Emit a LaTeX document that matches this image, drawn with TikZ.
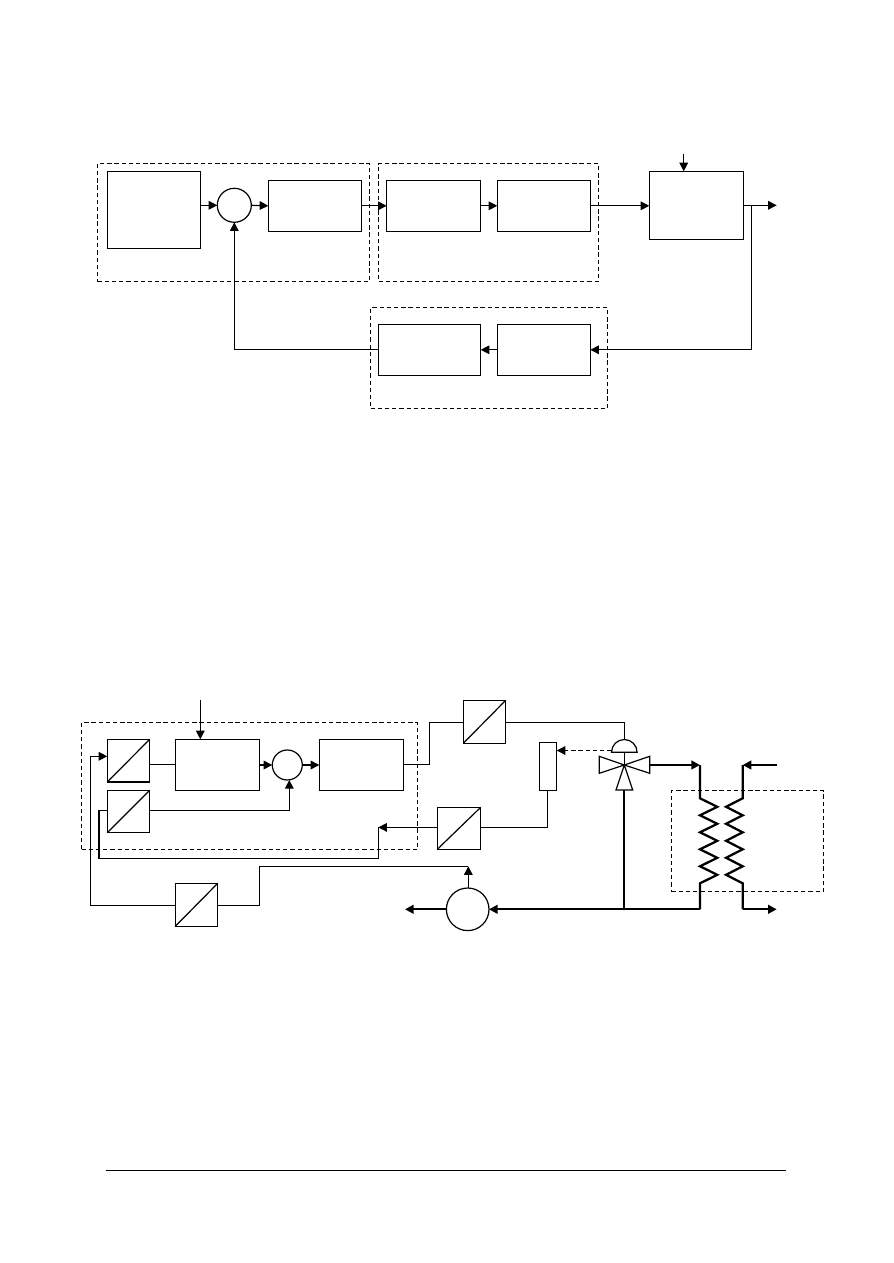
\documentclass[tikz,border=0pt]{standalone}
\usetikzlibrary{arrows.meta,calc}
\tikzset{
  px/.style={x=0.75pt,y=-0.75pt},
  wire/.style={line width=0.9pt,line join=miter},
  pipe/.style={line width=1.7pt,line join=miter},
  flow/.style={wire,-{Triangle[length=6.5pt,width=6.5pt]}},
  pipeflow/.style={pipe,-{Triangle[length=6.5pt,width=6.5pt]}},
  blockbox/.style={draw,line width=0.9pt,rectangle,inner sep=0pt,outer sep=0pt,fill=white},
  groupbox/.style={draw,line width=0.9pt,rectangle,inner sep=0pt,outer sep=0pt,dash pattern=on 3.2pt off 2.2pt},
  joint/.style={draw,line width=0.9pt,circle,inner sep=0pt,outer sep=0pt,fill=white},
}
\newcommand{\pxbox}[6]{\node[#1,minimum width={(#5-#3)*0.75pt},minimum height={(#6-#4)*0.75pt}] (#2) at ({(#3+#5)/2},{(#4+#6)/2}) {};}
\newcommand{\pxcirc}[4]{\node[joint,minimum size={2*#4*0.75pt}] (#1) at (#2,#3) {};}
\newcommand{\convdiag}[1]{\draw[wire] (#1.south west) -- (#1.north east);}
\begin{document}
\begin{tikzpicture}[px]
\useasboundingbox (0,0) rectangle (893,1263);
% ---------- upper diagram ----------
\pxbox{groupbox}{g1}{97.5}{163.5}{369.5}{281.5}
\pxbox{groupbox}{g2}{378.5}{163.5}{598.5}{281.5}
\pxbox{groupbox}{g3}{370.5}{307.5}{607.5}{408.5}
\coordinate (upin) at (683.7,154);
\coordinate (upout) at (776.7,205.3);
\coordinate (upbr) at (751.7,205.3);
\pxbox{blockbox}{a}{107.3}{171.3}{200.3}{248.3}
\pxcirc{s1}{234.3}{205.3}{17}
\pxbox{blockbox}{b}{268.3}{180.3}{361.7}{231.3}
\pxbox{blockbox}{c}{386.7}{180.3}{480.7}{231.3}
\pxbox{blockbox}{d}{497.3}{180.3}{590.3}{231.3}
\pxbox{blockbox}{e}{649.3}{171.3}{743.7}{239.3}
\pxbox{blockbox}{f}{497.3}{324.3}{590.3}{375.3}
\pxbox{blockbox}{h}{378.3}{324.3}{480.7}{375.3}
\draw[flow] (a.east |- s1.west) -- (s1.west);
\draw[flow] (s1.east) -- (b.west);
\draw[flow] (b.east) -- (c.west);
\draw[flow] (c.east) -- (d.west);
\draw[flow] (d.east) -- (e.west |- d.east);
\draw[flow] (upin) -- (upin |- e.north);
\draw[flow] (e.east |- upout) -- (upout);
\draw[flow] (upbr) |- (f.east);
\draw[flow] (f.west) -- (h.east);
\draw[flow] (h.west) -| (s1.south);
% ---------- lower diagram ----------
\pxbox{groupbox}{g4}{81.5}{722.5}{417.5}{849.5}
\pxbox{groupbox}{g5}{671.5}{790.5}{823.5}{891.5}
\pxbox{blockbox}{k1}{107.3}{739.3}{149.7}{782}
\pxbox{blockbox}{k2}{107.3}{790.3}{149.7}{832.7}
\pxbox{blockbox}{k3}{463.3}{700.3}{505.7}{743.3}
\pxbox{blockbox}{k4}{437.3}{807.3}{480.7}{849.3}
\pxbox{blockbox}{k5}{175.3}{883.3}{217.7}{926.3}
\convdiag{k1}\convdiag{k2}\convdiag{k3}\convdiag{k4}\convdiag{k5}
\pxbox{blockbox}{p}{175.3}{739.3}{259.7}{790.3}
\pxbox{blockbox}{q}{319.3}{739.3}{403.7}{790.3}
\pxcirc{s2}{287.3}{765}{15}
\pxbox{blockbox}{t}{539.3}{742.3}{556.7}{790.3}
\pxcirc{pump}{467.7}{909.3}{21.3}
\coordinate (lowin) at (200.3,700);
\draw[flow] (lowin) -- (lowin |- p.north);
\draw[wire] (k1.east |- 0,764.3) -- (p.west |- 0,764.3);
\draw[flow] (p.east |- s2.west) -- (s2.west);
\draw[flow] (s2.east) -- (q.west |- s2.east);
% controller output to the valve actuator
\coordinate (vc) at (624.3,765);
\coordinate (act) at (624.3,752.3);
\coordinate (acttop) at (624.3,739.5);
\draw[wire] (q.east |- 0,764.3) -- (429.3,764.3) |- (k3.west |- 0,722.3);
\draw[wire] (k3.east |- 0,722.3) -| (acttop);
% actuator and valve
\draw[wire,fill=white] (611.5,752.3) arc[start angle=180,end angle=360,radius=12.8] -- cycle;
\draw[wire] (act) -- (vc);
\draw[wire,fill=white] (vc) -- (599.3,756.3) -- (599.3,773.3) -- cycle;
\draw[wire,fill=white] (vc) -- (649.7,756.3) -- (649.7,773.3) -- cycle;
\draw[wire,fill=white] (vc) -- (616,790) -- (632.7,790) -- cycle;
% dashed signal from actuator to transmitter
\coordinate (dashfrom) at (611.5,750.5);
\draw[wire,dash pattern=on 3.2pt off 2.2pt,-{Triangle[length=6.5pt,width=6.5pt]}] (dashfrom) -- (t.east |- dashfrom);
% transmitter to converter to controller
\coordinate (tb) at (547.3,790.3);
\draw[wire] (tb) |- (k4.east |- 0,827.4);
\coordinate (jc) at (378.3,827.4);
\draw[flow] (k4.west |- jc) -- (jc);
\draw[wire] (jc) -- (378.3,858.3) -- (99,858.3) -- (99,810.3) -- (k2.west |- 0,810.3);
\draw[flow] (k2.east |- 0,810.3) -| (289.3,780);
% flow meter loop
\coordinate (pt) at (468.3,866.3);
\draw[wire] (k5.west |- 0,905.3) -| (90.7,756.3);
\draw[flow] (90.7,756.3) -- (k1.west |- 0,756.3);
\draw[wire] (k5.east |- 0,905.3) -- (259.7,905.3) -- (259.7,866.3) -- (pt);
\draw[flow] (pump.north -| pt) -- (pt);
% heat exchanger
\coordinate (hl) at (700,765);
\coordinate (hr) at (742.7,765);
\coordinate (hlb) at (700,909.3);
\coordinate (hrb) at (742.7,909.3);
\coordinate (hin) at (776.7,765);
\coordinate (hout) at (776.7,909.3);
\draw[pipeflow] (649.7,765) -- (hl);
\draw[pipe] (hl) -- (700,798.3)
  -- (717.3,806.8) -- (700,815.3) -- (717.3,823.8) -- (700,832.3) -- (717.3,840.8)
  -- (700,849.3) -- (717.3,857.8) -- (700,866.3) -- (717.3,874.8) -- (700,883.3) -- (hlb);
\draw[pipe] (hr) -- (742.7,798.3)
  -- (726,806.8) -- (742.7,815.3) -- (726,823.8) -- (742.7,832.3) -- (726,840.8)
  -- (742.7,849.3) -- (726,857.8) -- (742.7,866.3) -- (726,874.8) -- (742.7,883.3) -- (hrb);
\draw[pipeflow] (hin) -- (hr);
\draw[pipeflow] (hrb) -- (hout);
\draw[pipeflow] (hlb) -- (pump.east);
\draw[pipeflow] (pump.west) -- (405,909.3);
\draw[pipe] (623.7,790) -- (623.7,909.3);
% page rule
\coordinate (ruleL) at (106,1170.5);
\coordinate (ruleR) at (786,1170.5);
\draw[line width=0.75pt] (ruleL) -- (ruleR);
\end{tikzpicture}
\end{document}
